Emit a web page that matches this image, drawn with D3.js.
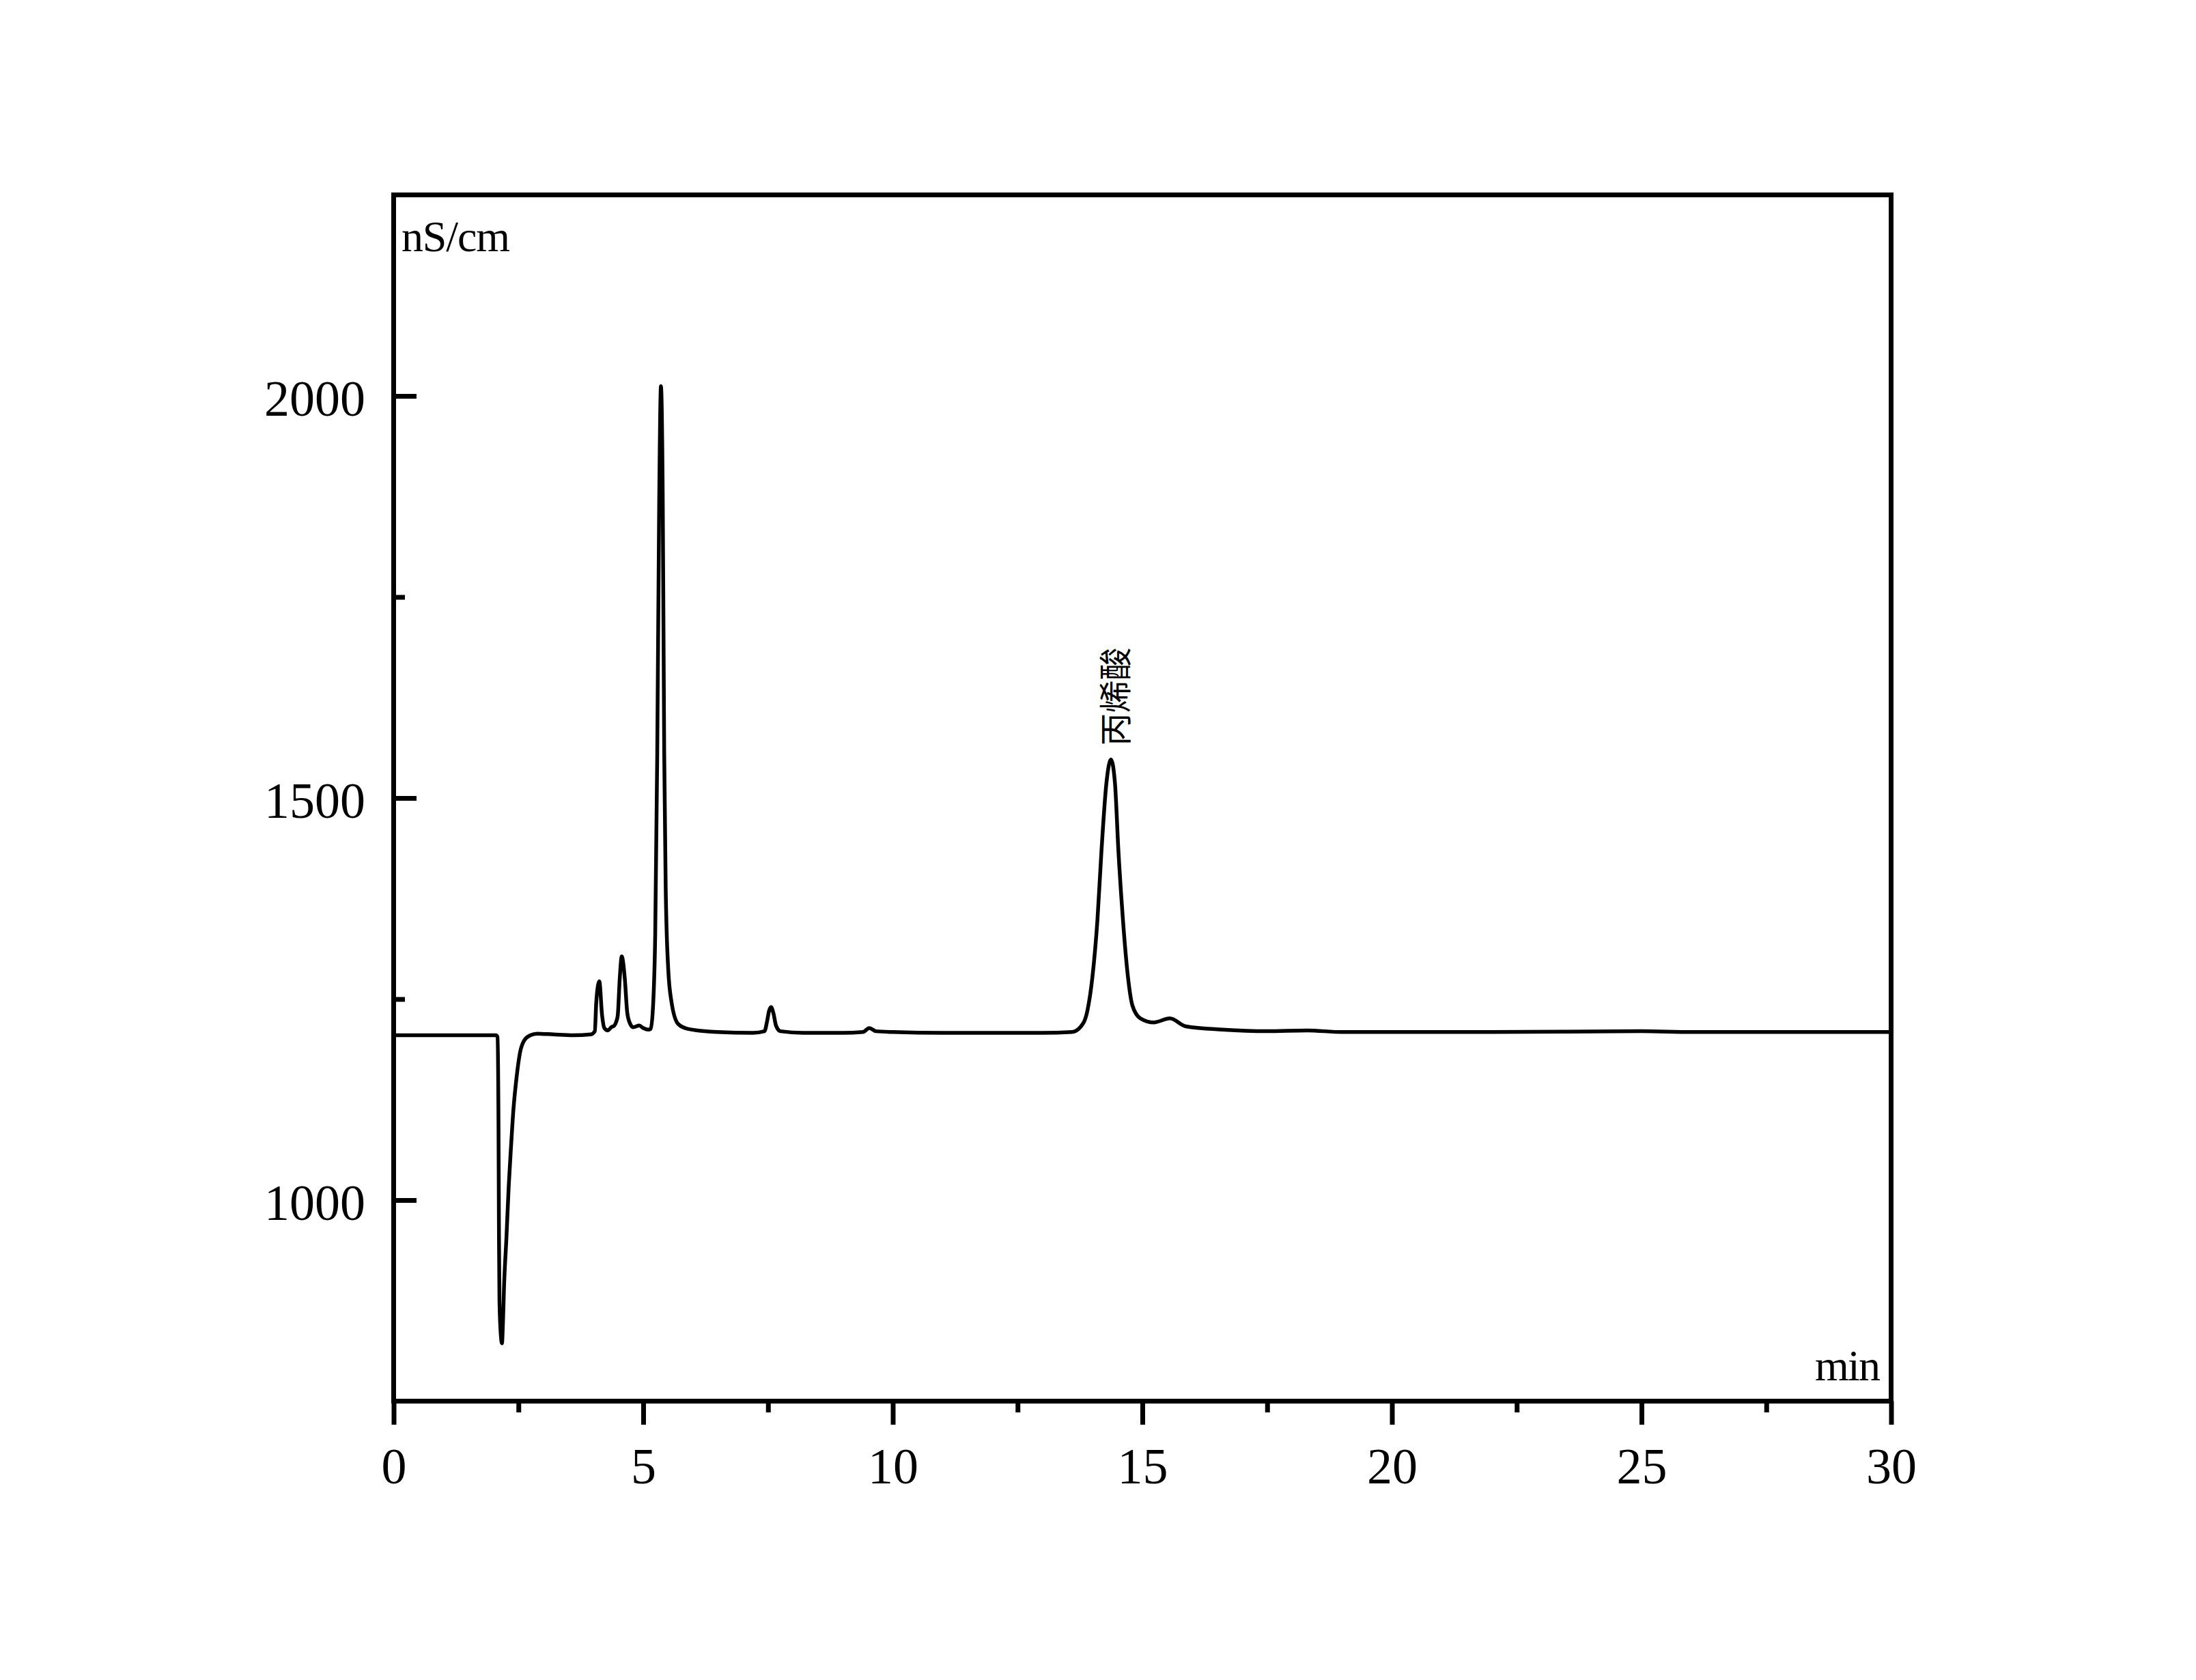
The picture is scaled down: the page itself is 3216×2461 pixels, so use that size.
<!DOCTYPE html>
<html>
<head>
<meta charset="utf-8">
<script src="https://cdn.jsdelivr.net/npm/d3@7"></script>
<style>
  html, body { margin: 0; padding: 0; background: #ffffff; }
  svg { display: block; }
</style>
</head>
<body>
<svg id="chart" width="3216" height="2461"></svg>
<script>
// ---- data ----
const timeMin = [
  0, 1.0, 2.05, 2.08, 2.10, 2.11, 2.12, 2.15, 2.17, 2.19, 2.21, 2.26, 2.305, 2.35, 2.40, 2.465, 2.53, 2.62, 2.74, 2.875,
  3.2, 3.6, 3.95, 4.03, 4.06, 4.12, 4.175, 4.22, 4.29, 4.36, 4.42, 4.46, 4.49, 4.53, 4.57, 4.63, 4.68, 4.74, 4.80, 4.92,
  5.00, 5.10, 5.15, 5.20, 5.24, 5.28, 5.32, 5.355, 5.39, 5.42, 5.45, 5.50, 5.565, 5.70, 5.89, 6.48, 7.2,
  7.43, 7.48, 7.52, 7.56, 7.61, 7.66, 7.75, 8.2, 9.0, 9.40, 9.53, 9.66, 10.0, 11.0, 12.0, 13.0, 13.59, 13.77, 13.9,
  14.0, 14.1, 14.18, 14.28, 14.37, 14.45, 14.52, 14.61, 14.71, 14.8, 14.96, 15.23, 15.55, 15.87, 16.6, 17.5, 18.3,
  19, 20, 22, 25, 26, 28, 30
];
const signal = [
  1205, 1205, 1205, 1203, 1100, 954, 874, 830, 822, 848, 890, 954, 1017, 1065, 1113, 1154, 1183, 1199, 1205, 1207,
  1206, 1205, 1206, 1210, 1247, 1272, 1230, 1214, 1211, 1215, 1217, 1222, 1230, 1276, 1303, 1276, 1233, 1219, 1215, 1217,
  1214, 1212, 1213, 1245, 1330, 1550, 1870, 2012, 1880, 1558, 1389, 1288, 1247, 1219, 1213, 1209, 1208,
  1210, 1222, 1235, 1240, 1232, 1217, 1210, 1208, 1208, 1209, 1214, 1210, 1209, 1208, 1208, 1208, 1209, 1216, 1236,
  1278, 1349, 1434, 1519, 1548, 1519, 1434, 1349, 1278, 1242, 1226, 1221, 1226, 1216, 1212, 1210, 1211,
  1209, 1209, 1209, 1210, 1209, 1209, 1209
];
const xTicks = [0, 5, 10, 15, 20, 25, 30];
const xMinorTicks = [2.5, 7.5, 12.5, 17.5, 22.5, 27.5];
const yTicks = [1000, 1500, 2000];
const yMinorTicks = [1250, 1750];
const peakLabels = [{ t: 14.37, v: 1548, text: "丙烯酸" }];
const yUnit = "nS/cm";
const xUnit = "min";

// ---- layout ----
const svg = d3.select("#chart");
const L = 576.5, R = 2769.5, T = 285.5, B = 2052.5;
const x = d3.scaleLinear().domain([0, 30]).range([L, R]);
const y = d3.scaleLinear().domain([750, 2250]).range([B, T]);
const serif = "'Liberation Serif', 'Times New Roman', serif";

// data line
const pts = timeMin.map((t, i) => [t, signal[i]]);
const line = d3.line().x(d => x(d[0])).y(d => y(d[1])).curve(d3.curveMonotoneX);
svg.append("path").datum(pts)
  .attr("d", line)
  .attr("fill", "none")
  .attr("stroke", "#000")
  .attr("stroke-width", 5.5)
  .attr("stroke-linejoin", "round");

// x axis major (outward) ticks + labels
const gx = svg.append("g").attr("transform", `translate(0,${B})`)
  .call(d3.axisBottom(x).tickValues(xTicks).tickSizeInner(34.5).tickSizeOuter(0).tickPadding(33.5).tickFormat(d3.format("d")));
gx.select(".domain").remove();
gx.selectAll("line").attr("stroke", "#000").attr("stroke-width", 7);
gx.selectAll("text").attr("font-family", serif).attr("font-size", 74).attr("fill", "#000");

const gxm = svg.append("g").attr("transform", `translate(0,${B})`)
  .call(d3.axisBottom(x).tickValues(xMinorTicks).tickSizeInner(16.5).tickSizeOuter(0).tickFormat(""));
gxm.select(".domain").remove();
gxm.selectAll("line").attr("stroke", "#000").attr("stroke-width", 7);

// y axis major (inward) ticks + labels
const gy = svg.append("g").attr("transform", `translate(${L},0)`)
  .call(d3.axisLeft(y).tickValues(yTicks).tickSizeInner(-33.5).tickSizeOuter(0).tickPadding(41.5).tickFormat(d3.format("d")));
gy.select(".domain").remove();
gy.selectAll("line").attr("stroke", "#000").attr("stroke-width", 7);
gy.selectAll("text").attr("font-family", serif).attr("font-size", 74).attr("fill", "#000").attr("dy", "0.38em");

const gym = svg.append("g").attr("transform", `translate(${L},0)`)
  .call(d3.axisLeft(y).tickValues(yMinorTicks).tickSizeInner(-16.5).tickSizeOuter(0).tickFormat(""));
gym.select(".domain").remove();
gym.selectAll("line").attr("stroke", "#000").attr("stroke-width", 7);

// frame
svg.append("rect")
  .attr("x", L).attr("y", T).attr("width", R - L).attr("height", B - T)
  .attr("fill", "none").attr("stroke", "#000").attr("stroke-width", 7);

// unit labels
svg.append("text").attr("x", 588).attr("y", 368)
  .attr("font-family", serif).attr("font-size", 64).attr("fill", "#000")
  .attr("textLength", 159).attr("lengthAdjust", "spacing")
  .text(yUnit);
svg.append("text").attr("x", 2658).attr("y", 2022)
  .attr("font-family", serif).attr("font-size", 64).attr("fill", "#000")
  .attr("textLength", 96).attr("lengthAdjust", "spacing")
  .text(xUnit);

// peak label (rotated)
peakLabels.forEach(p => {
  const px = x(p.t) + 3, py = y(p.v) - 20;
  svg.append("text")
    .attr("transform", `translate(${px},${py}) rotate(-90)`)
    .attr("x", 0).attr("y", 0)
    .attr("dominant-baseline", "central")
    .attr("font-family", "'Noto Sans CJK SC', sans-serif")
    .attr("font-size", 48).attr("fill", "#000")
    .text(p.text);
});
</script>
</body>
</html>
